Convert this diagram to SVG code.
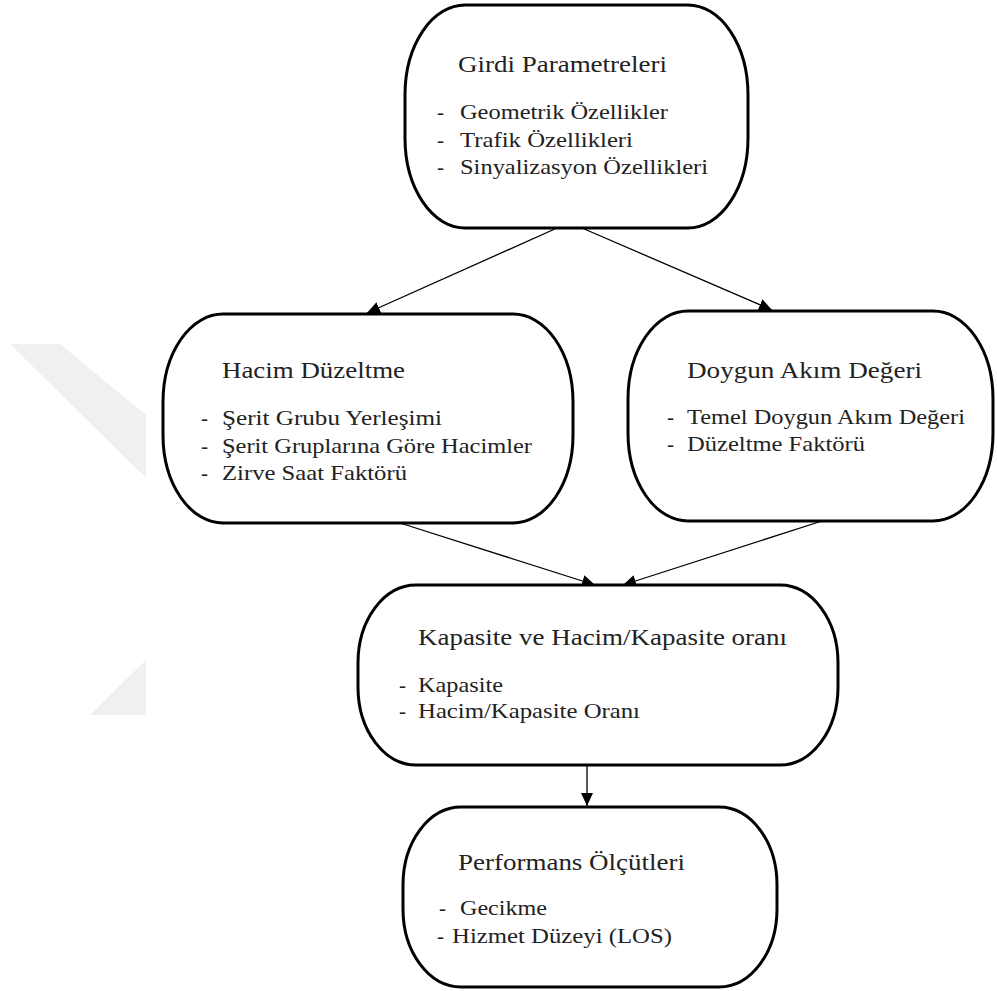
<svg xmlns="http://www.w3.org/2000/svg" width="997" height="991" viewBox="0 0 997 991">
<style>
.box{fill:#fff;stroke:#000;stroke-width:3}
.t{font-family:"Liberation Serif","Times New Roman",serif;font-size:23.5px;fill:#222}
.i{font-family:"Liberation Serif","Times New Roman",serif;font-size:21px;fill:#222}
.c{stroke:#000;stroke-width:1.3;fill:none;marker-end:url(#ah)}
.wm{fill:#f0f0f0}
</style>
<defs>
<marker id="ah" markerUnits="userSpaceOnUse" markerWidth="14" markerHeight="12" refX="13" refY="6" orient="auto">
<path d="M0,0 L13,6 L0,12 Z" fill="#000"/>
</marker>
</defs>
<rect width="997" height="991" fill="#fff"/>
<g id="watermark">
<polygon class="wm" points="10,344 60,344 146,415 146,478"/>
<polygon class="wm" points="90,715 146,660 146,715"/>
</g>
<g id="connectors">
<line class="c" x1="557" y1="228" x2="367" y2="313"/>
<line class="c" x1="582" y1="228" x2="772" y2="310"/>
<line class="c" x1="400" y1="523" x2="595" y2="585"/>
<line class="c" x1="822" y1="521" x2="623" y2="585"/>
<line class="c" x1="587" y1="765" x2="587" y2="806"/>
</g>
<g id="girdi">
<rect class="box" x="405" y="5" width="343" height="223" rx="60" ry="90"/>
<text class="t" x="458" y="72" textLength="209" lengthAdjust="spacingAndGlyphs">Girdi Parametreleri</text>
<text class="i" x="437" y="119">-</text>
<text class="i" x="460" y="119" textLength="208" lengthAdjust="spacingAndGlyphs">Geometrik Özellikler</text>
<text class="i" x="437" y="147">-</text>
<text class="i" x="460" y="147" textLength="173" lengthAdjust="spacingAndGlyphs">Trafik Özellikleri</text>
<text class="i" x="437" y="174">-</text>
<text class="i" x="460" y="174" textLength="248" lengthAdjust="spacingAndGlyphs">Sinyalizasyon Özellikleri</text>
</g>
<g id="hacim">
<rect class="box" x="163" y="314" width="410" height="209" rx="60" ry="88"/>
<text class="t" x="222" y="378" textLength="183" lengthAdjust="spacingAndGlyphs">Hacim Düzeltme</text>
<text class="i" x="201" y="425">-</text>
<text class="i" x="222" y="425" textLength="220" lengthAdjust="spacingAndGlyphs">Şerit Grubu Yerleşimi</text>
<text class="i" x="201" y="453">-</text>
<text class="i" x="222" y="453" textLength="310" lengthAdjust="spacingAndGlyphs">Şerit Gruplarına Göre Hacimler</text>
<text class="i" x="201" y="480">-</text>
<text class="i" x="222" y="480" textLength="185" lengthAdjust="spacingAndGlyphs">Zirve Saat Faktörü</text>
</g>
<g id="doygun">
<rect class="box" x="628" y="311" width="365" height="210" rx="60" ry="88"/>
<text class="t" x="687" y="378" textLength="235" lengthAdjust="spacingAndGlyphs">Doygun Akım Değeri</text>
<text class="i" x="667" y="424">-</text>
<text class="i" x="687" y="424" textLength="278" lengthAdjust="spacingAndGlyphs">Temel Doygun Akım Değeri</text>
<text class="i" x="667" y="451">-</text>
<text class="i" x="687" y="451" textLength="178" lengthAdjust="spacingAndGlyphs">Düzeltme Faktörü</text>
</g>
<g id="kapasite">
<rect class="box" x="358" y="585" width="480" height="180" rx="58" ry="78"/>
<text class="t" x="418" y="645" textLength="369" lengthAdjust="spacingAndGlyphs">Kapasite ve Hacim/Kapasite oranı</text>
<text class="i" x="399" y="692">-</text>
<text class="i" x="418" y="692" textLength="85" lengthAdjust="spacingAndGlyphs">Kapasite</text>
<text class="i" x="399" y="718">-</text>
<text class="i" x="418" y="718" textLength="222" lengthAdjust="spacingAndGlyphs">Hacim/Kapasite Oranı</text>
</g>
<g id="performans">
<rect class="box" x="403" y="807" width="374" height="180" rx="58" ry="78"/>
<text class="t" x="458" y="870" textLength="227" lengthAdjust="spacingAndGlyphs">Performans Ölçütleri</text>
<text class="i" x="439" y="915">-</text>
<text class="i" x="460" y="915" textLength="87" lengthAdjust="spacingAndGlyphs">Gecikme</text>
<text class="i" x="437" y="943">-</text>
<text class="i" x="452" y="943" textLength="220" lengthAdjust="spacingAndGlyphs">Hizmet Düzeyi (LOS)</text>
</g>
</svg>
